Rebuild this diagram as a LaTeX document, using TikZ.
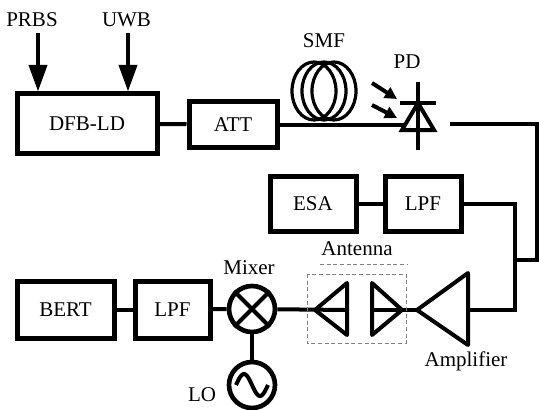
\documentclass[tikz,border=0pt]{standalone}
\usepackage{fontspec}
\setmainfont{Liberation Serif}
\newfontfamily\labelfont{Liberation Serif}
\usetikzlibrary{arrows.meta}
\begin{document}
\begin{tikzpicture}[x=0.75pt, y=-0.75pt, line width=3pt]
\tikzstyle{block}=[rectangle, draw, line width=3.75pt, inner sep=0pt, font=\labelfont\fontsize{15.75}{18}\selectfont]
\tikzstyle{lbl}=[inner sep=0pt, anchor=base, font=\labelfont\fontsize{15.75}{18}\selectfont]
\tikzstyle{round}=[circle, draw, line width=3.5pt, minimum size=34.5pt, inner sep=0pt]
\tikzstyle{bigarrow}=[-{Triangle[length=20pt, width=13.5pt]}]
\tikzstyle{lightarrow}=[-{Triangle[length=9pt, width=9pt]}]
\useasboundingbox (0,0) rectangle (539,410);

\node[block, minimum width=105pt, minimum height=44.25pt] (dfb) at (87,123.5) {DFB-LD};
\node[block, minimum width=66pt, minimum height=33.75pt] (att) at (233,124.5) {ATT};
\node[block, minimum width=64.5pt, minimum height=41.25pt] (esa) at (313,203.5) {ESA};
\node[block, minimum width=57pt, minimum height=41.25pt] (lpfa) at (423,203.5) {LPF};
\node[block, minimum width=72.75pt, minimum height=42.75pt] (bert) at (65.5,309.5) {BERT};
\node[block, minimum width=56.25pt, minimum height=42.75pt] (lpfb) at (172.5,309.5) {LPF};
\node[round] (mix) at (252,309) {};
\node[round] (lo) at (252,385) {};

\node[lbl] (prbs) at (32,27) {PRBS};
\node[lbl] (uwb) at (126.5,27) {UWB};
\node[lbl] (smf) at (324,48) {SMF};
\node[lbl] (pdl) at (407,69) {PD};
\node[lbl] (mixl) at (249,274) {Mixer};
\node[lbl] (lol) at (202,401) {LO};
\node[lbl] (antl) at (357,255) {Antenna};
\node[lbl] (ampl) at (466,366) {Amplifier};

\coordinate (in1) at (38,33);
\coordinate (in2) at (128,33);
\draw[bigarrow] (in1) -- (in1 |- dfb.north);
\draw[bigarrow] (in2) -- (in2 |- dfb.north);

\coordinate (pd) at (418,116);
\coordinate (pdin) at (405,124.5);
\coordinate (pdout) at (450,124);
\coordinate (bend) at (515,260);
\coordinate (amp) at (417,310);
\coordinate (ant1) at (315,310);
\coordinate (ant2) at (402,310);

\foreach \x in {314,324,334} {
\draw[line width=2.4pt] (\x,91) ellipse (22 and 29);
}
\draw (dfb) -- (att);
\draw (att.east) -- (pdin);
\draw (pd) ++(-16,14) -- ++(32,0) -- ++(-16,-27) -- cycle;
\draw (pd) ++(-18,-13) -- ++(36,0);
\draw (pd) ++(0,-34) -- ++(0,68);
\draw[lightarrow] (372,83) -- (397,99);
\draw[lightarrow] (372,105) -- (397,118);
\draw (pdout) -- (537,124) -- (537,260) -- (bend);
\draw (esa) -- (lpfa);
\draw (lpfa.east) -- (lpfa.east -| bend) -- (bend |- amp) -- (amp -| 468,0);
\draw[line join=round] (amp) -- (468,273) -- (468,345) -- cycle;
\draw (372,310) -- (amp);
\draw[line join=round] (ant2) -- (372,283) -- (372,335) -- cycle;
\draw[line join=round] (ant1) -- (347,283) -- (347,335) -- cycle;
\draw (mix) -- (347,310);
\draw[gray, line width=0.75pt, dash pattern=on 3pt off 2pt] (307,274) rectangle (406,343);
\draw[gray, line width=0.75pt, dash pattern=on 3pt off 2pt] (320,264) -- (408,264);
\draw (mix.north east) -- (mix.south west);
\draw (mix.north west) -- (mix.south east);
\draw (mix) -- (lo);
\draw (bert) -- (lpfb);
\draw (lpfb) -- (mix);
\draw[line width=3pt] plot[domain=-1:1, samples=30] ({252+16*\x},{385+11*sin(180*\x)});

\end{tikzpicture}
\end{document}
